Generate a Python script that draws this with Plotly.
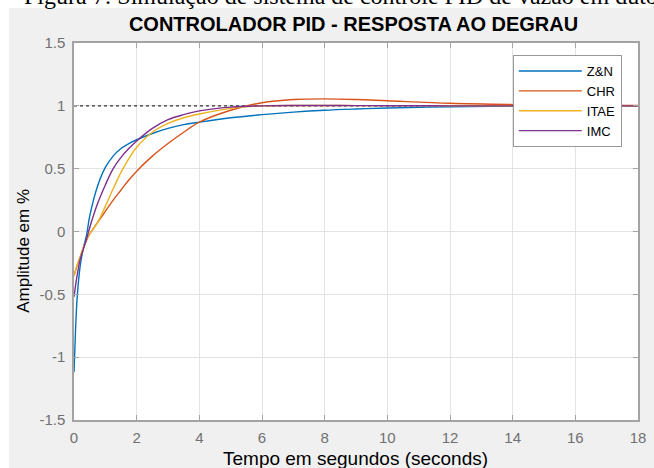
import plotly.graph_objects as go

# ---- data ----
t = [0, 0.05, 0.1, 0.2, 0.3, 0.4, 0.5, 0.75, 1, 1.25, 1.5, 1.75, 2, 2.5, 3, 3.5, 4, 5, 6, 7, 8, 9, 10, 12, 14, 16, 18]

zn = [-1.12, -0.78, -0.53, -0.27, -0.13, -0.03, 0.12, 0.36, 0.51, 0.60, 0.66, 0.70, 0.73, 0.78, 0.82, 0.85, 0.87, 0.905, 0.93, 0.95, 0.965, 0.975, 0.983, 0.993, 0.998, 1.0, 1.0]
chr_ = [-0.35, -0.31, -0.27, -0.20, -0.13, -0.07, -0.02, 0.07, 0.16, 0.25, 0.33, 0.41, 0.48, 0.60, 0.70, 0.79, 0.87, 0.965, 1.025, 1.05, 1.055, 1.05, 1.04, 1.02, 1.01, 1.005, 1.003]
itae = [-0.35, -0.31, -0.27, -0.20, -0.13, -0.07, -0.02, 0.07, 0.20, 0.34, 0.47, 0.58, 0.67, 0.79, 0.86, 0.905, 0.935, 0.98, 1.0, 1.003, 1.003, 1.002, 1.002, 1.001, 1.0, 1.0, 1.0]
imc = [-0.52, -0.43, -0.35, -0.22, -0.14, -0.06, 0.03, 0.22, 0.37, 0.50, 0.59, 0.66, 0.72, 0.82, 0.89, 0.93, 0.96, 0.99, 1.0, 1.003, 1.003, 1.002, 1.001, 1.0, 1.0, 1.0, 1.0]

ref_t = [0, 18]
ref_v = [1, 1]

series_names = ["Z&N", "CHR", "ITAE", "IMC"]
series_colors = ["#0072BD", "#D95319", "#EDB120", "#7E2F8E"]

x_ticks = [0, 2, 4, 6, 8, 10, 12, 14, 16, 18]
y_ticks = [-1.5, -1, -0.5, 0, 0.5, 1, 1.5]
y_tick_text = ["-1.5", "-1", "-0.5", "0", "0.5", "1", "1.5"]

title_text = "CONTROLADOR PID - RESPOSTA AO DEGRAU"
caption_text = "Figura 7: Simulação de sistema de controle PID de vazão em duto"
x_title = "Tempo em segundos (seconds)"
y_title = "Amplitude em %"

# ---- figure ----
W, H = 654, 468
ML, MR, MT, MB = 74, 8, 43, 48
PW, PH = W - ML - MR, H - MT - MB

def px_x(p):
    return (p - ML) / PW

def px_y(p):
    return 1 + (MT - p) / PH

FONT = "Liberation Sans, Arial, sans-serif"
AXC = "#a3a3a3"

fig = go.Figure()

fig.add_trace(go.Scatter(x=ref_t, y=ref_v, mode="lines", showlegend=False, hoverinfo="skip",
                         line=dict(color="#333333", width=1.4, dash="dot")))

for name, vals, col in zip(series_names, [zn, chr_, itae, imc], series_colors):
    fig.add_trace(go.Scatter(x=t, y=vals, mode="lines", name=name,
                             line=dict(color=col, width=1.4, shape="spline", smoothing=1.0)))

axis_common = dict(showline=True, linecolor=AXC, linewidth=1.5, mirror="ticks",
                   ticks="inside", ticklen=5, tickwidth=1, tickcolor=AXC,
                   showgrid=True, gridcolor="#e3e3e3", gridwidth=1, zeroline=False,
                   tickfont=dict(family=FONT, size=15, color="#707070"))

fig.update_xaxes(range=[0, 18], tickvals=x_ticks, ticktext=[str(v) for v in x_ticks],
                 ticklabelstandoff=3, **axis_common)
fig.update_yaxes(range=[-1.5, 1.5], tickvals=y_ticks, ticktext=y_tick_text,
                 ticklabelstandoff=4, **axis_common)

fig.update_layout(
    width=W, height=H, autosize=False,
    margin=dict(l=ML, r=MR, t=MT, b=MB, pad=0),
    paper_bgcolor="#f0f0f0", plot_bgcolor="white",
    font=dict(family=FONT, color="#000000"),
    title=dict(text="<b>" + title_text + "</b>", x=px_x(357.5), xref="paper", xanchor="center",
               y=1 - 24 / H, yref="container", yanchor="middle",
               font=dict(family=FONT, size=20, color="#000000")),
    legend=dict(x=px_x(519), y=px_y(55), xanchor="left", yanchor="top",
                bgcolor="white", bordercolor="#999999", borderwidth=1,
                font=dict(family=FONT, size=13, color="#000000"),
                itemwidth=63, tracegroupgap=0),
    shapes=[
        dict(type="rect", xref="paper", yref="paper", layer="below",
             x0=px_x(-5), x1=px_x(W + 5), y0=px_y(8), y1=px_y(-5),
             fillcolor="white", line=dict(width=0)),
        dict(type="rect", xref="paper", yref="paper", layer="below",
             x0=px_x(-5), x1=px_x(8), y0=px_y(H + 5), y1=px_y(-5),
             fillcolor="white", line=dict(width=0)),
    ],
    annotations=[
        dict(text=caption_text, xref="paper", yref="paper", x=px_x(21), y=px_y(-4.5),
             xanchor="left", yanchor="middle", showarrow=False,
             font=dict(family="Liberation Serif, Times New Roman, serif", size=24, color="#000000")),
        dict(text=x_title, xref="paper", yref="paper", x=px_x(359.5), y=px_y(458),
             xanchor="center", yanchor="middle", showarrow=False,
             font=dict(family=FONT, size=19, color="#000000")),
        dict(text=y_title, xref="paper", yref="paper", x=px_x(22), y=px_y(251),
             xanchor="center", yanchor="middle", showarrow=False, textangle=-90,
             font=dict(family=FONT, size=17, color="#000000")),
    ],
)

# the page photograph starts at the figure's own top-left corner
fig.write_html("out.html", config={"displayModeBar": False},
               post_script="document.body.style.margin='0px';document.body.style.overflow='hidden';")
